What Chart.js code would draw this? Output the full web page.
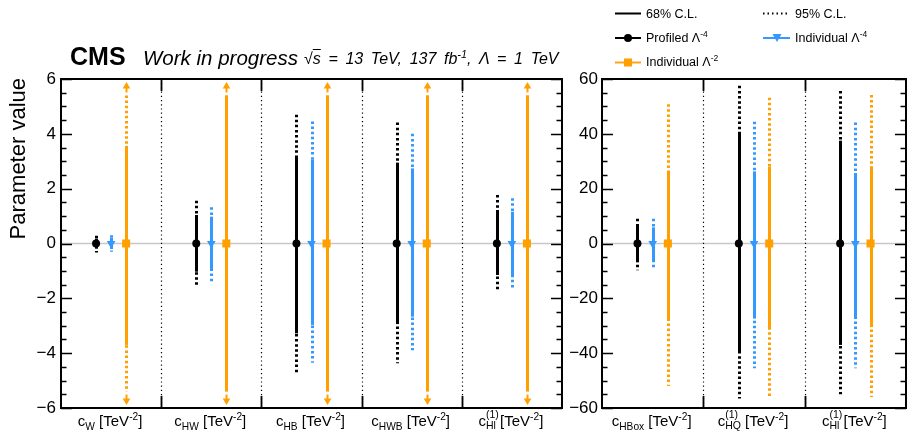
<!DOCTYPE html>
<html><head><meta charset="utf-8">
<script src="https://cdn.jsdelivr.net/npm/chart.js@4.4.0/dist/chart.umd.min.js"></script>
<style>
body{margin:0;width:907px;height:432px;background:#fff;position:relative;overflow:hidden;font-family:"Liberation Sans",Arial,Helvetica,sans-serif;color:#000}
.abs{position:absolute;white-space:nowrap}
canvas{position:absolute;top:0}
sup,sub{font-size:0.68em;line-height:0}
.xl{font-size:15px;line-height:15px;transform:translateX(-50%)}
.stk{display:inline-block;position:relative;font-size:10.5px;line-height:10px;vertical-align:-3px}
.stk .u{position:absolute;left:0;top:-11px}
.lg{font-size:12.5px;line-height:12.5px}
</style></head>
<body>
<canvas id="cl" width="565" height="432" style="left:0;width:565px;height:432px"></canvas>
<canvas id="cr" width="342" height="432" style="left:565px;width:342px;height:432px"></canvas>

<div class="abs" style="left:70px;top:43.8px;font-size:25px;line-height:25px;font-weight:bold">CMS</div>
<div class="abs" style="left:143px;top:47.6px;font-size:20.5px;line-height:20.5px;font-style:italic">Work in progress</div>
<div class="abs" style="left:304px;top:50.8px;font-size:16px;line-height:16px;font-style:italic;word-spacing:3.2px">√<span style="text-decoration:overline">s</span> = 13 TeV, 137 fb<sup>-1</sup>, Λ = 1 TeV</div>

<div class="abs" style="left:7px;top:278px;width:200px;text-align:right;font-size:22px;line-height:22px;transform-origin:left top;transform:rotate(-90deg)">Parameter value</div>

<svg class="abs" style="left:600px;top:0" width="307" height="75">
  <line x1="15" y1="13.5" x2="41" y2="13.5" stroke="#000" stroke-width="2"/>
  <line x1="163" y1="13.5" x2="190" y2="13.5" stroke="#000" stroke-width="2" stroke-dasharray="1.5,3"/>
  <line x1="15" y1="38" x2="41" y2="38" stroke="#000" stroke-width="2"/>
  <circle cx="28" cy="38" r="4" fill="#000"/>
  <line x1="163" y1="38" x2="190" y2="38" stroke="#3399ff" stroke-width="2"/>
  <polygon points="172.5,34 181.5,34 177,42" fill="#3399ff"/>
  <line x1="15" y1="62.5" x2="41" y2="62.5" stroke="#ffa31a" stroke-width="2"/>
  <rect x="24" y="58.5" width="8" height="8" fill="#ffa000"/>
</svg>
<div class="abs lg" style="left:646px;top:8.4px">68% C.L.</div>
<div class="abs lg" style="left:795px;top:8.4px">95% C.L.</div>
<div class="abs lg" style="left:646px;top:32.4px">Profiled Λ<sup>-4</sup></div>
<div class="abs lg" style="left:795px;top:32.4px">Individual Λ<sup>-4</sup></div>
<div class="abs lg" style="left:646px;top:56.4px">Individual Λ<sup>-2</sup></div>

<script>
// ---------------- data ----------------
const leftSub = ['W', 'HW', 'HB', 'HWB', 'Hl'];
const leftSup = ['', '', '', '', '(1)'];
const rightSub = ['HBox', 'HQ', 'Hl'];
const rightSup = ['', '(1)', '(1)'];
const unitLabel = 'TeV';
const unitPower = '-2';

const leftTicks = [-6, -4, -2, 0, 2, 4, 6];
const rightTicks = [-60, -40, -20, 0, 20, 40, 60];

// central values (all fits centred on 0)
const leftCentral = [0, 0, 0, 0, 0];
const rightCentral = [0, 0, 0];

// intervals [low, high]; null = beyond the plotted range
const leftProf68 = [[-0.18, 0.18], [-1.03, 1.04], [-3.28, 3.17], [-2.94, 2.95], [-1.15, 1.22]];
const leftProf95 = [[-0.33, 0.28], [-1.58, 1.56], [-4.72, 4.70], [-4.37, 4.41], [-1.70, 1.77]];
const leftInd4_68 = [[-0.20, 0.20], [-0.97, 0.98], [-2.97, 3.05], [-2.67, 2.74], [-1.15, 1.16]];
const leftInd4_95 = [[-0.30, 0.30], [-1.43, 1.32], [-4.35, 4.45], [-3.89, 4.00], [-1.70, 1.65]];
const leftInd2_68 = [[-3.70, 3.56], [null, null], [null, null], [null, null], [null, null]];
const leftInd2_95 = [[null, null], [null, null], [null, null], [null, null], [null, null]];

const rightProf68 = [[-6.8, 6.5], [-39.5, 40.1], [-37.0, 37.5]];
const rightProf95 = [[-9.8, 9.0], [-56.5, 57.5], [-55.0, 55.6]];
const rightInd4_68 = [[-6.2, 5.9], [-27.4, 26.3], [-27.2, 25.7]];
const rightInd4_95 = [[-9.2, 9.0], [-45.5, 44.4], [-45.5, 44.1]];
const rightInd2_68 = [[-28.0, 26.3], [-31.0, 28.0], [-30.5, 28.0]];
const rightInd2_95 = [[-52.0, 50.8], [-56.0, 53.2], [-56.0, 54.2]];

// ---------------- style ----------------
const BLACK = '#000000', BLUE = '#3399ff', ORANGE = '#ffa000';
const OFFS = [-0.15, 0, 0.15];
const CLIP = 0.9;
const FONT = '"Liberation Sans", Arial, Helvetica, sans-serif';

function seriesDefs(p68, p95, b68, b95, o68, o95) {
  return [
    {color: BLACK, off: OFFS[0], cl68: p68, cl95: p95},
    {color: BLUE, off: OFFS[1], cl68: b68, cl95: b95},
    {color: ORANGE, off: OFFS[2], cl68: o68, cl95: o95}
  ];
}

function panelPlugin(series, nCat) {
  return {
    id: 'panel',
    beforeDatasetsDraw(chart) {
      const {ctx, chartArea: a} = chart;
      const x = chart.scales.x, y = chart.scales.y;
      ctx.save();
      ctx.strokeStyle = '#c8c8c8'; ctx.lineWidth = 1.6;
      const y0 = y.getPixelForValue(0);
      ctx.beginPath(); ctx.moveTo(a.left, y0); ctx.lineTo(a.right, y0); ctx.stroke();
      for (let i = 1; i < nCat; i++) {
        const px = Math.round(x.getPixelForValue(i)) + 0.5;
        ctx.strokeStyle = '#000'; ctx.lineWidth = 1.2; ctx.setLineDash([1.2, 3]);
        ctx.beginPath(); ctx.moveTo(px, a.top); ctx.lineTo(px, a.bottom); ctx.stroke();
        ctx.setLineDash([]); ctx.lineWidth = 1.8;
        ctx.beginPath(); ctx.moveTo(px, a.top); ctx.lineTo(px, a.top + 12);
        ctx.moveTo(px, a.bottom); ctx.lineTo(px, a.bottom - 12); ctx.stroke();
      }
      const hiClip = y.max * CLIP, loClip = y.min * CLIP;
      const val = (v, c) => (v === null ? c : v);
      series.forEach(s => {
        for (let i = 0; i < nCat; i++) {
          const px = Math.round(x.getPixelForValue(i + 0.5 + s.off)) + 0.5;
          const d95 = s.cl95[i], d68 = s.cl68[i];
          ctx.strokeStyle = s.color; ctx.fillStyle = s.color;
          ctx.lineWidth = 3; ctx.setLineDash([2.5, 2.6]);
          ctx.beginPath();
          ctx.moveTo(px, y.getPixelForValue(val(d95[1], hiClip)));
          ctx.lineTo(px, y.getPixelForValue(val(d95[0], loClip)));
          ctx.stroke();
          ctx.setLineDash([]); ctx.lineWidth = 3;
          ctx.beginPath();
          ctx.moveTo(px, y.getPixelForValue(val(d68[1], hiClip)));
          ctx.lineTo(px, y.getPixelForValue(val(d68[0], loClip)));
          ctx.stroke();
          const arrow = (clipV, dir) => {
            const yc = y.getPixelForValue(clipV);
            const tip = dir < 0 ? a.top + 3 : a.bottom - 3;
            ctx.lineWidth = 2;
            ctx.beginPath(); ctx.moveTo(px, yc + dir * 3); ctx.lineTo(px, tip - dir * 5); ctx.stroke();
            ctx.beginPath();
            ctx.moveTo(px, tip);
            ctx.lineTo(px - 3.8, tip - dir * 6.5);
            ctx.lineTo(px + 3.8, tip - dir * 6.5);
            ctx.closePath(); ctx.fill();
          };
          if (d95[1] === null) arrow(hiClip, -1);
          if (d95[0] === null) arrow(loClip, 1);
        }
      });
      ctx.restore();
    },
    afterDraw(chart) {
      const {ctx, chartArea: a} = chart;
      const y = chart.scales.y;
      ctx.save();
      ctx.strokeStyle = '#000';
      const tv = y.ticks.map(t => t.value);
      const step = tv[1] - tv[0];
      const minor = step / 4;
      ctx.lineWidth = 1.6;
      ctx.beginPath();
      for (let v = y.min; v <= y.max + 1e-9; v += minor) {
        const isMajor = Math.abs(Math.round((v - tv[0]) / step) * step - (v - tv[0])) < 1e-6;
        const len = isMajor ? 11 : 5.5;
        const py = Math.round(y.getPixelForValue(v)) + 0.5;
        ctx.moveTo(a.left, py); ctx.lineTo(a.left + len, py);
        ctx.moveTo(a.right, py); ctx.lineTo(a.right - len, py);
      }
      ctx.stroke();
      ctx.lineWidth = 2;
      ctx.strokeRect(Math.round(a.left), Math.round(a.top), Math.round(a.right - a.left), Math.round(a.bottom - a.top));
      ctx.restore();
    }
  };
}

function markerSets(central) {
  const pts = off => central.map((v, i) => ({x: i + 0.5 + off, y: v}));
  return [
    {data: pts(OFFS[0]), pointStyle: 'circle', pointRadius: 4, backgroundColor: BLACK, borderColor: BLACK, borderWidth: 0},
    {data: pts(OFFS[1]), pointStyle: 'triangle', rotation: 180, pointRadius: 5, backgroundColor: BLUE, borderColor: BLUE, borderWidth: 0},
    {data: pts(OFFS[2]), pointStyle: 'rect', pointRadius: 5.7, backgroundColor: ORANGE, borderColor: ORANGE, borderWidth: 0}
  ];
}

function makeChart(id, central, series, ticks, axisWidth, padRight, labelPad) {
  const n = central.length;
  return new Chart(document.getElementById(id), {
    type: 'scatter',
    data: {datasets: markerSets(central)},
    options: {
      responsive: false, animation: false, devicePixelRatio: 1,
      layout: {autoPadding: false, padding: {top: 79, bottom: 24, left: 0, right: padRight}},
      plugins: {legend: {display: false}, tooltip: {enabled: false}},
      scales: {
        x: {type: 'linear', min: 0, max: n, display: false},
        y: {
          type: 'linear', min: ticks[0], max: ticks[ticks.length - 1],
          grid: {display: false, drawTicks: false}, border: {display: false},
          afterBuildTicks: s => { s.ticks = ticks.map(v => ({value: v})); },
          afterFit: s => { s.width = axisWidth; },
          ticks: {
            color: '#000', padding: labelPad, font: {family: FONT, size: 17},
            callback: v => String(v).replace('-', '\u2212')
          }
        }
      }
    },
    plugins: [panelPlugin(series, n)]
  });
}

const chL = makeChart('cl', leftCentral,
  seriesDefs(leftProf68, leftProf95, leftInd4_68, leftInd4_95, leftInd2_68, leftInd2_95),
  leftTicks, 61, 3, 5);
const chR = makeChart('cr', rightCentral,
  seriesDefs(rightProf68, rightProf95, rightInd4_68, rightInd4_95, rightInd2_68, rightInd2_95),
  rightTicks, 37, 1, 4);

function addLabels(chart, offset, subs, sups) {
  subs.forEach((sb, i) => {
    const d = document.createElement('div');
    d.className = 'abs xl';
    const px = chart.scales.x.getPixelForValue(i + 0.5) + offset;
    d.style.left = (px - 1) + 'px';
    d.style.top = '413.3px';
    let idx;
    if (sups[i]) idx = '<span class="stk"><span class="u">' + sups[i] + '</span>' + sb + '</span>';
    else idx = '<sub>' + sb + '</sub>';
    d.innerHTML = 'c' + idx + ' [' + unitLabel + '<sup>' + unitPower + '</sup>]';
    document.body.appendChild(d);
  });
}
addLabels(chL, 0, leftSub, leftSup);
addLabels(chR, 565, rightSub, rightSup);
</script>
</body></html>
